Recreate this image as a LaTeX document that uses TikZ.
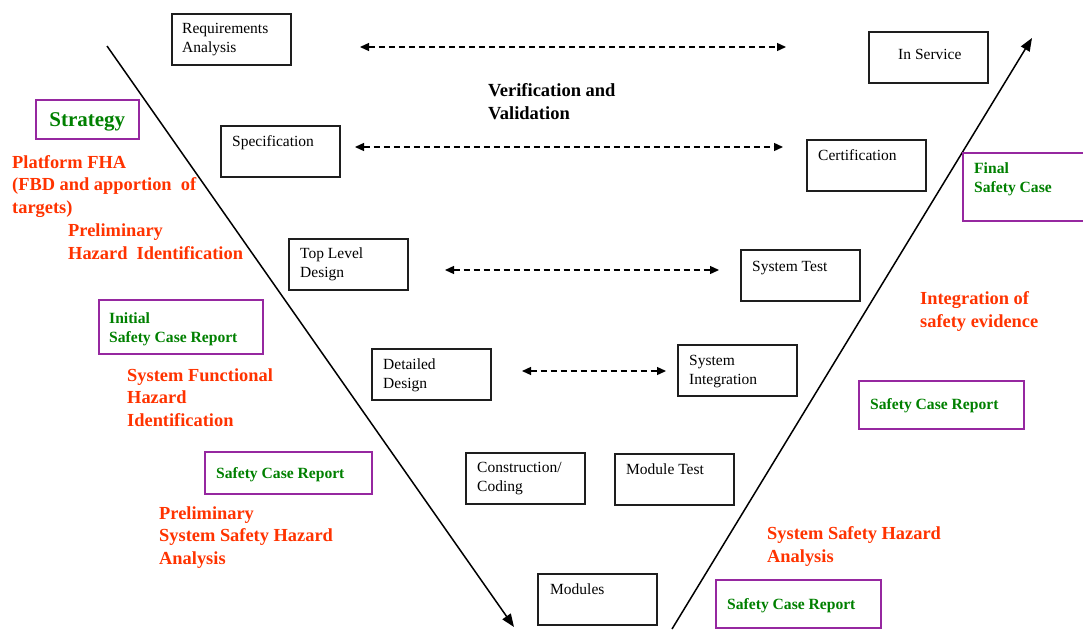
\documentclass[tikz,border=0pt]{standalone}
\usepackage{fontspec}
\setmainfont{Liberation Serif}
\usetikzlibrary{arrows.meta,calc}
\definecolor{hazred}{RGB}{255,51,0}
\definecolor{casegreen}{RGB}{0,128,0}
\definecolor{casepurple}{RGB}{150,40,160}
\definecolor{boxline}{RGB}{30,30,30}
% multi-line texts are placed by the baseline of their last line
\tikzset{
  phase/.style={draw=boxline, line width=1.6pt, minimum width=119pt, minimum height=51pt,
    inner sep=0pt, anchor=north west},
  casebox/.style={draw=casepurple, line width=1.6pt, inner sep=0pt, anchor=north west},
  phasetext/.style={anchor=base west, inner sep=0pt, align=left,
    font=\fontsize{15.5}{19}\selectfont},
  casetext/.style={anchor=base west, inner sep=0pt, align=left, text=casegreen,
    font=\fontsize{15.6}{19}\selectfont\bfseries},
  hazard/.style={anchor=base west, inner sep=0pt, align=left, text=hazred,
    font=\fontsize{18.4}{22.5}\selectfont\bfseries},
  vv/.style={dashed, dash pattern=on 6pt off 4pt, line width=1.3pt,
    {Triangle[length=9pt,width=8pt]}-{Triangle[length=9pt,width=8pt]}},
  vleg/.style={line width=1.5pt, -{Triangle[length=13pt,width=10pt]}}
}
\begin{document}
\begin{tikzpicture}[x=1pt,y=-1pt]
\useasboundingbox (0,0) rectangle (1083,629);

% development side of the V
\node[phase] (req) at (171,13) {};
\node[phasetext] (reqt) at ($(req.north west)+(11,39)$) {Requirements\\Analysis};
\node[phase] (spec) at (220,125) {};
\node[phasetext] (spect) at ($(spec.north west)+(12,21)$) {Specification};
\node[phase] (tld) at (288,238) {};
\node[phasetext] (tldt) at ($(tld.north west)+(12,39)$) {Top Level\\Design};
\node[phase] (dd) at (371,348) {};
\node[phasetext] (ddt) at ($(dd.north west)+(12,40)$) {Detailed\\Design};
\node[phase] (cc) at (465,452) {};
\node[phasetext] (cct) at ($(cc.north west)+(12,39)$) {Construction/\\Coding};
\node[phase] (mod) at (537,573) {};
\node[phasetext] (modt) at ($(mod.north west)+(13,21)$) {Modules};

% test side of the V
\node[phase] (mt) at (614,453) {};
\node[phasetext] (mtt) at ($(mt.north west)+(12,21)$) {Module Test};
\node[phase] (si) at (677,344) {};
\node[phasetext] (sit) at ($(si.north west)+(12,40)$) {System\\Integration};
\node[phase] (st) at (740,249) {};
\node[phasetext] (stt) at ($(st.north west)+(12,22)$) {System Test};
\node[phase] (cert) at (806,139) {};
\node[phasetext] (certt) at ($(cert.north west)+(12,21)$) {Certification};
\node[phase] (ins) at (868,31) {};
\node[phasetext] (inst) at ($(ins.north west)+(30,28)$) {In Service};

% verification and validation links
\coordinate (v1a) at (360,47);  \coordinate (v1b) at (786,47);
\coordinate (v2a) at (355,147); \coordinate (v2b) at (783,147);
\coordinate (v3a) at (445,270); \coordinate (v3b) at (719,270);
\coordinate (v4a) at (522,371); \coordinate (v4b) at (666,371);
\draw[vv] (v1a) -- (v1b);
\draw[vv] (v2a) -- (v2b);
\draw[vv] (v3a) -- (v3b);
\draw[vv] (v4a) -- (v4b);
\node[anchor=base west, inner sep=0pt, align=left, font=\fontsize{18.5}{23}\selectfont\bfseries]
  (vandv) at (488,119) {Verification and\\Validation};

% legs of the V
\coordinate (ltop) at (107,46);  \coordinate (lbot) at (514,627);
\coordinate (rbot) at (672,629); \coordinate (rtop) at (1032,38);
\draw[vleg] (ltop) -- (lbot);
\draw[vleg] (rbot) -- (rtop);

% safety case deliverables
\node[casebox, minimum width=103pt, minimum height=39pt] (strat) at (35,99) {};
\node[text=casegreen, font=\fontsize{21}{24}\selectfont\bfseries, inner sep=0pt] (stratt)
  at ($(strat.center)+(0,3)$) {Strategy};
\node[casebox, minimum width=164pt, minimum height=54pt] (iscr) at (98,299) {};
\node[casetext] (iscrt) at ($(iscr.north west)+(11,43)$) {Initial\\Safety Case Report};
\node[casebox, minimum width=167pt, minimum height=42pt] (scr1) at (204,451) {};
\node[casetext] (scr1t) at ($(scr1.north west)+(12,27)$) {Safety Case Report};
\node[casebox, minimum width=130pt, minimum height=68pt] (fsc) at (962,152) {};
\node[casetext] (fsct) at ($(fsc.north west)+(12,40)$) {Final\\Safety Case};
\node[casebox, minimum width=165pt, minimum height=48pt] (scr2) at (858,380) {};
\node[casetext] (scr2t) at ($(scr2.north west)+(12,29)$) {Safety Case Report};
\node[casebox, minimum width=165pt, minimum height=48pt] (scr3) at (715,579) {};
\node[casetext] (scr3t) at ($(scr3.north west)+(12,30)$) {Safety Case Report};

% hazard analysis activities
\node[hazard] (pfha) at (12,213) {Platform FHA\\(FBD and apportion~ of\\targets)};
\node[hazard] (phi) at (68,259) {Preliminary\\Hazard~ Identification};
\node[hazard] (sfhi) at (127,426) {System Functional\\Hazard\\Identification};
\node[hazard] (pssha) at (159,564) {Preliminary\\System Safety Hazard\\Analysis};
\node[hazard] (ise) at (920,327) {Integration of\\safety evidence};
\node[hazard] (ssha) at (767,562) {System Safety Hazard\\Analysis};
\end{tikzpicture}
\end{document}
